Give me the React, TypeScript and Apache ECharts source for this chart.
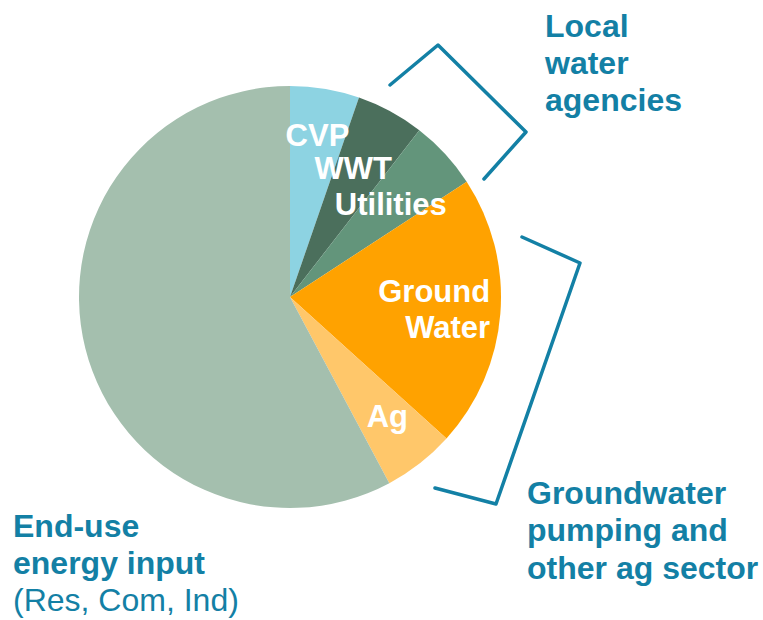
import React, { useEffect, useRef } from 'react';
import * as echarts from 'echarts';

const categories = ['CVP', 'WWT', 'Utilities', 'Ground Water', 'Ag', 'End-use energy input'];
const shares = [5.3, 5.2, 5.3, 20.9, 5.5, 57.8];
const sliceLabels = ['CVP', 'WWT', 'Utilities', '{r|Ground}\n{r|Water}', '{c|Ag}', ''];
const sliceColors = ['#8dd3e2', '#4b6f5c', '#63957b', '#ffa200', '#ffc76a', '#a4bfae'];
const labelNudge = [
  [9.5, -55],
  [11.5, -33],
  [21, -19],
  [36, 3.5],
  [30.6, 33.5],
  [0, 0],
];

const noteTopLines = ['Local', 'water', 'agencies'];
const noteRightLines = ['Groundwater', 'pumping and', 'other ag sector'];
const noteLeftBold = ['End-use', 'energy input'];
const noteLeftRegular = '(Res, Com, Ind)';

const NOTE = '#1380a5';
const FONT = '"Liberation Sans", Arial, Helvetica, sans-serif';

export default function App() {
  const ref = useRef<HTMLDivElement>(null);
  useEffect(() => {
    if (!ref.current) return;
    const chart = echarts.init(ref.current, undefined, { renderer: 'svg' });
    const labelBase = {
      color: '#ffffff',
      fontFamily: FONT,
      fontWeight: 'bold' as const,
      fontSize: 31,
      lineHeight: 36,
    };
    chart.setOption({
      animation: false,
      backgroundColor: '#ffffff',
      series: [
        {
          type: 'pie',
          silent: true,
          center: [290, 297],
          radius: 211,
          startAngle: 90,
          clockwise: true,
          avoidLabelOverlap: false,
          itemStyle: { borderWidth: 0 },
          emphasis: { disabled: true },
          labelLine: { show: false },
          label: {
            show: true,
            position: 'inside',
            ...labelBase,
            formatter: (p: any) => sliceLabels[p.dataIndex],
            rich: {
              r: { ...labelBase, align: 'right' },
              c: { ...labelBase },
            },
          },
          labelLayout: (p: any) => ({
            dx: labelNudge[p.dataIndex][0],
            dy: labelNudge[p.dataIndex][1],
          }),
          data: categories.map((name, i) => ({
            name,
            value: shares[i],
            itemStyle: { color: sliceColors[i] },
            label: { show: sliceLabels[i] !== '' },
          })),
        },
      ],
      graphic: [
        {
          type: 'polyline',
          silent: true,
          shape: { points: [[390, 85], [438, 45], [526, 132], [484, 179]] },
          style: { stroke: NOTE, lineWidth: 3.5, fill: 'none', lineJoin: 'round', lineCap: 'round' },
        },
        {
          type: 'polyline',
          silent: true,
          shape: { points: [[522, 237], [580, 263], [496, 504], [435, 488]] },
          style: { stroke: NOTE, lineWidth: 3.5, fill: 'none', lineJoin: 'round', lineCap: 'round' },
        },
        {
          type: 'text',
          silent: true,
          x: 545,
          y: 7,
          style: {
            text: noteTopLines.join('\n'),
            font: `bold 32px ${FONT}`,
            fill: NOTE,
            lineHeight: 37,
            textAlign: 'left',
            textVerticalAlign: 'top',
          },
        },
        {
          type: 'text',
          silent: true,
          x: 527,
          y: 474,
          style: {
            text: noteRightLines.join('\n'),
            font: `bold 32px ${FONT}`,
            fill: NOTE,
            lineHeight: 37.5,
            textAlign: 'left',
            textVerticalAlign: 'top',
          },
        },
        {
          type: 'text',
          silent: true,
          x: 13,
          y: 507,
          style: {
            text: noteLeftBold.join('\n'),
            font: `bold 32px ${FONT}`,
            fill: NOTE,
            lineHeight: 37.5,
            textAlign: 'left',
            textVerticalAlign: 'top',
          },
        },
        {
          type: 'text',
          silent: true,
          x: 13,
          y: 581,
          style: {
            text: noteLeftRegular,
            font: `32px ${FONT}`,
            fill: NOTE,
            lineHeight: 37,
            textAlign: 'left',
            textVerticalAlign: 'top',
          },
        },
      ],
    });
    return () => chart.dispose();
  }, []);
  return (
    <div
      ref={ref}
      style={{ position: 'absolute', left: 0, top: 0, width: 763, height: 620, background: '#fff' }}
    />
  );
}
